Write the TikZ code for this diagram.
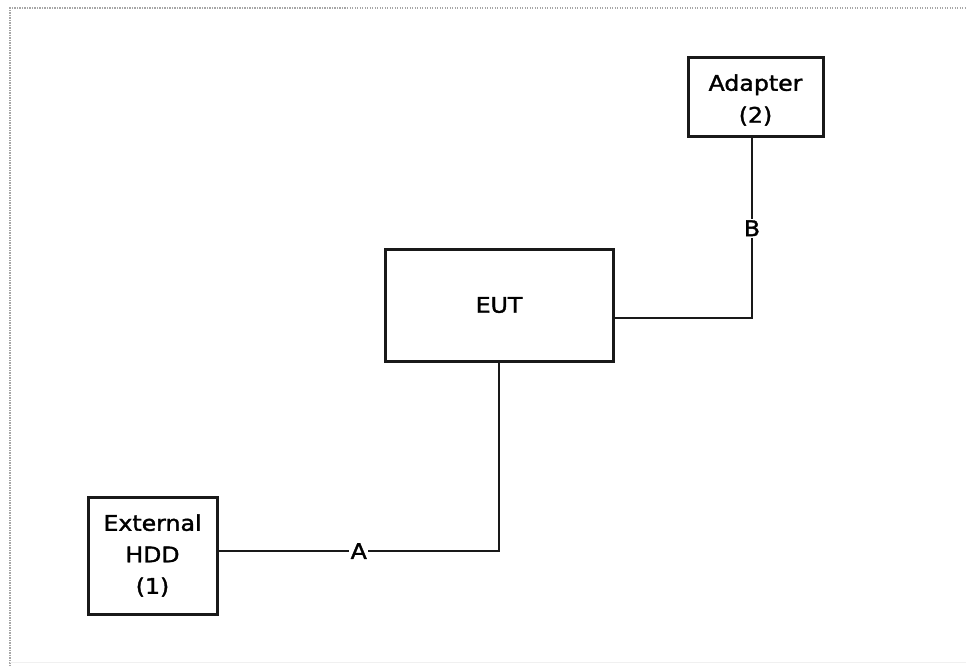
\documentclass[tikz,border=0pt]{standalone}
\usepackage{fontspec}
\setmainfont{DejaVu Sans}[FakeStretch=1.1, FakeBold=1.6]
\begin{document}
\begin{tikzpicture}[x=1pt,y=-1pt,
  box/.style={draw=black!90, line width=3pt, fill=white, inner sep=0pt, align=center,
    font=\fontsize{21.5}{31.5}\selectfont},
  boxtext/.style={inner sep=0pt, align=center, font=\fontsize{21.5}{32}\selectfont},
  wire/.style={draw=black!90, line width=2.9pt},
  wlabel/.style={fill=white, inner sep=1.5pt, font=\fontsize{21.5}{26}\selectfont}]
\useasboundingbox (0,0) rectangle (966,666);
\draw[black!35, line width=1.2pt, dash pattern=on 1.2pt off 1.3pt] (10,666) -- (10,8) -- (966,8);
\draw[black!6, line width=1pt] (10,662) -- (966,662);
\node[box, minimum width=135, minimum height=79] (adapter) at (755.5,97.5) {};
\node[boxtext] (adaptertext) at (755.5,100) {Adapter\\(2)};
\node[box, minimum width=228, minimum height=112] (eut) at (499,305) {EUT};
\node[box, minimum width=129, minimum height=117] (hdd) at (152.5,555.5) {External\\HDD\\(1)};
\draw[wire] ([yshift=4.5]hdd.east) -| node[pos=0.25, wlabel] {A} (eut.south);
\draw[wire] ([yshift=-13]eut.east) -| node[pos=0.75, wlabel] {B} ([xshift=-3.5]adapter.south);
\end{tikzpicture}
\end{document}
